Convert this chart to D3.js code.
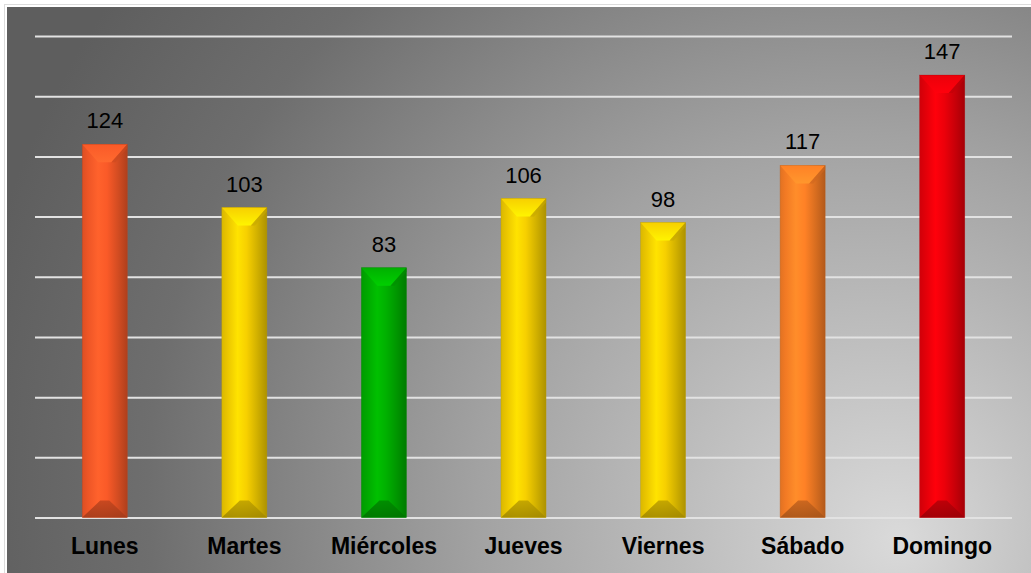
<!DOCTYPE html>
<html>
<head>
<meta charset="utf-8">
<script src="https://cdn.jsdelivr.net/npm/d3@7"></script>
<style>
  html, body { margin: 0; padding: 0; background: #ffffff; }
  svg { display: block; }
</style>
</head>
<body>
<svg id="chart" width="1031" height="573"></svg>
<script>
// ---- data ----
const categories = ["Lunes", "Martes", "Miércoles", "Jueves", "Viernes", "Sábado", "Domingo"];
const values = [124, 103, 83, 106, 98, 117, 147];
const yTicks = [0, 20, 40, 60, 80, 100, 120, 140, 160];
// palette (one colour per bar)
const barColors = ["#FA5A28", "#F7D000", "#00B000", "#F7D000", "#F7D000", "#FF8126", "#EC000A"];

const W = 1031, H = 573;
const svg = d3.select("#chart");
const defs = svg.append("defs");

// background
svg.append("rect").attr("x", 0).attr("y", 0).attr("width", W).attr("height", H).attr("fill", "#ffffff");
svg.append("rect").attr("x", 4.5).attr("y", 4.5).attr("width", W - 4).attr("height", H - 4)
  .attr("fill", "none").attr("stroke", "#dcdcdc").attr("stroke-width", 1);

const bg = defs.append("radialGradient").attr("id", "bg")
  .attr("gradientUnits", "userSpaceOnUse")
  .attr("cx", 800).attr("cy", 480).attr("r", 840)
  .attr("fx", 900).attr("fy", 540);
bg.append("stop").attr("offset", "0").attr("stop-color", "#dadada");
bg.append("stop").attr("offset", "0.45").attr("stop-color", "#a2a2a2");
bg.append("stop").attr("offset", "0.8").attr("stop-color", "#6e6e6e");
bg.append("stop").attr("offset", "1").attr("stop-color", "#5e5e5e");
svg.append("rect").attr("x", 7).attr("y", 7).attr("width", W - 7).attr("height", H - 7).attr("fill", "url(#bg)");

// scales
const x = d3.scaleBand().domain(categories).range([35, 1012]).paddingInner(0.677).paddingOuter(0.3385);
const y = d3.scaleLinear().domain([0, 160]).range([517.5, 36]);

// gridlines
const grid = svg.append("g").attr("transform", "translate(35,0)")
  .call(d3.axisLeft(y).tickValues(yTicks).tickSize(-(1012 - 35)).tickFormat(""));
grid.select(".domain").remove();
grid.selectAll(".tick line").attr("stroke", "#e2e2e2").attr("stroke-width", 2);

// bars
function shade(c, k) { return d3.color(c).darker(k).formatHex(); }
function tint(c, k) { return d3.color(c).brighter(k).formatHex(); }

categories.forEach((cat, i) => {
  const c = barColors[i];
  const g = defs.append("linearGradient").attr("id", "bar" + i)
    .attr("x1", 0).attr("y1", 0).attr("x2", 1).attr("y2", 0);
  g.append("stop").attr("offset", "0").attr("stop-color", shade(c, 0.35));
  g.append("stop").attr("offset", "0.12").attr("stop-color", shade(c, 0.15));
  g.append("stop").attr("offset", "0.35").attr("stop-color", tint(c, 0.25));
  g.append("stop").attr("offset", "0.55").attr("stop-color", c);
  g.append("stop").attr("offset", "0.78").attr("stop-color", shade(c, 0.45));
  g.append("stop").attr("offset", "1").attr("stop-color", shade(c, 1.0));

  const tg = defs.append("linearGradient").attr("id", "top" + i)
    .attr("x1", 0).attr("y1", 0).attr("x2", 0).attr("y2", 1);
  tg.append("stop").attr("offset", "0").attr("stop-color", c);
  tg.append("stop").attr("offset", "1").attr("stop-color", tint(c, 0.45));

  const bgd = defs.append("linearGradient").attr("id", "bot" + i)
    .attr("x1", 0).attr("y1", 0).attr("x2", 0).attr("y2", 1);
  bgd.append("stop").attr("offset", "0").attr("stop-color", shade(c, 0.7));
  bgd.append("stop").attr("offset", "1").attr("stop-color", shade(c, 1.2));
});

const bars = svg.append("g").selectAll("g.bar").data(values).join("g").attr("class", "bar");

bars.each(function(v, i) {
  const gsel = d3.select(this);
  const x0 = x(categories[i]);
  const bw = x.bandwidth();
  const y0 = y(v), yb = y(0);
  const c = barColors[i];
  const bev = 18, inset = 16;
  gsel.append("rect").attr("x", x0).attr("y", y0).attr("width", bw).attr("height", yb - y0)
    .attr("fill", "url(#bar" + i + ")");
  // top bevel face
  gsel.append("path")
    .attr("d", `M${x0},${y0} L${x0 + bw},${y0} L${x0 + bw - inset},${y0 + bev} L${x0 + inset},${y0 + bev}Z`)
    .attr("fill", "url(#top" + i + ")");
  gsel.append("path")
    .attr("d", `M${x0 + bw},${y0} L${x0 + bw - inset},${y0 + bev} L${x0 + bw - inset + 4},${y0 + bev} L${x0 + bw},${y0 + 4}Z`)
    .attr("fill", shade(c, 0.6)).attr("opacity", 0.6);
  // bottom bevel
  gsel.append("path")
    .attr("d", `M${x0},${yb} L${x0 + inset + 2},${yb - 17} L${x0 + bw - inset - 2},${yb - 17} L${x0 + bw},${yb}Z`)
    .attr("fill", "url(#bot" + i + ")").attr("opacity", 0.9);
  gsel.append("rect").attr("x", x0).attr("y", y0).attr("width", bw).attr("height", yb - y0)
    .attr("fill", "none").attr("stroke", shade(c, 0.8)).attr("stroke-width", 0.6).attr("opacity", 0.6);
});

// value labels
svg.append("g").selectAll("text").data(values).join("text")
  .attr("x", (d, i) => x(categories[i]) + x.bandwidth() / 2)
  .attr("y", d => y(d) - 16)
  .attr("text-anchor", "middle")
  .attr("font-family", "Liberation Sans, Arial, sans-serif")
  .attr("font-size", 22)
  .attr("fill", "#000")
  .text(d => d);

// category axis
const xa = svg.append("g").attr("transform", "translate(0,517.5)")
  .call(d3.axisBottom(x).tickSize(0).tickPadding(0));
xa.select(".domain").remove();
xa.selectAll(".tick text")
  .attr("y", 36).attr("dy", 0)
  .attr("font-family", "Liberation Sans, Arial, sans-serif")
  .attr("font-weight", "bold")
  .attr("font-size", 23)
  .attr("fill", "#000");
</script>
</body>
</html>
